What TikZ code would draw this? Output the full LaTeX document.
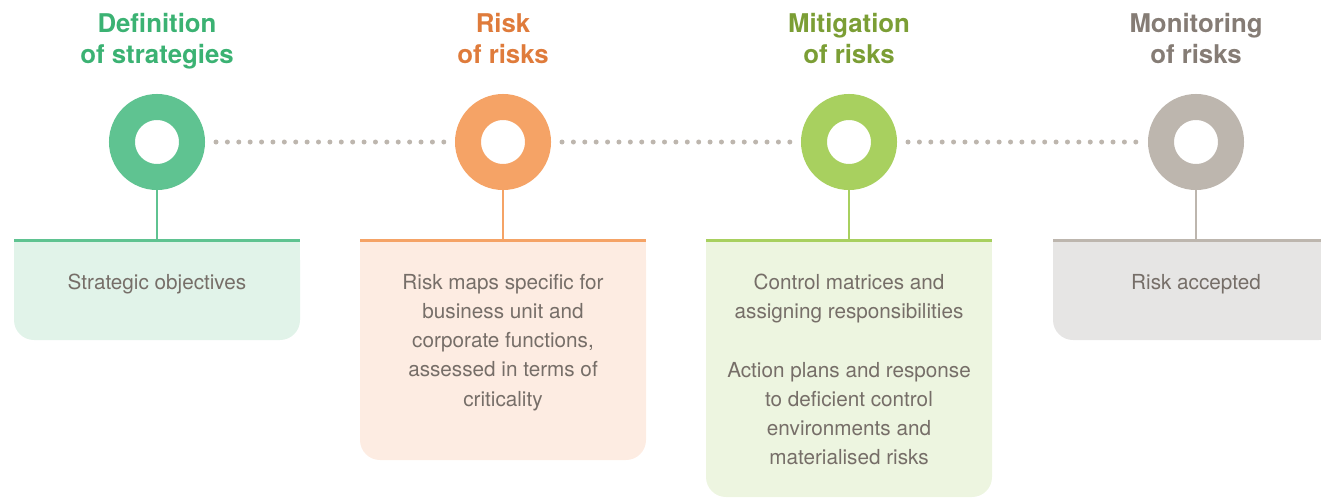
\documentclass[tikz,border=0pt]{standalone}
\usepackage{fontspec}
\setmainfont{TeX Gyre Heros}
\usepackage{tikz}

\definecolor{greenC}{HTML}{5FC391}
\definecolor{greenT}{HTML}{3BB273}
\definecolor{greenF}{HTML}{E1F3E9}
\definecolor{orangeC}{HTML}{F5A366}
\definecolor{orangeT}{HTML}{DF7B3B}
\definecolor{orangeF}{HTML}{FDECE2}
\definecolor{limeC}{HTML}{A8D05F}
\definecolor{limeT}{HTML}{7B9E35}
\definecolor{limeF}{HTML}{EDF5E0}
\definecolor{greyC}{HTML}{BDB6AE}
\definecolor{greyT}{HTML}{857C75}
\definecolor{greyF}{HTML}{E6E5E4}
\definecolor{textgrey}{HTML}{766E68}

\tikzset{
    ring/.style={circle, draw=#1, line width=26pt, minimum size=70pt, inner sep=0pt},
    title/.style={font=\bfseries\fontsize{25.8}{31.5}\selectfont, text=#1, align=center, anchor=north, inner sep=0pt},
    body/.style={font=\fontsize{20.7}{29.2}\selectfont, text=textgrey, align=center, anchor=north, inner sep=0pt},
    stem/.style={draw=#1, line width=2.5pt},
    dots/.style={draw=greyC, line width=5pt, line cap=round, dash pattern=on 0pt off 11.39pt}
}

\begin{document}
\begin{tikzpicture}[x=1pt,y=-1pt]
            \useasboundingbox (0,0) rectangle (1321,498);
            \clip (0,0) rectangle (1321,498);
            % rings, boxes and stems
            \foreach \i/\cx/\bot/\cc/\fc in {1/157/340/greenC/greenF, 2/503/460/orangeC/orangeF, 3/849/497/limeC/limeF, 4/1196/340/greyC/greyF}{
                \node[ring=\cc] (c\i) at (\cx,142) {};
                \fill[\fc, rounded corners=20pt] (\cx-143,240) rectangle (\cx+143,\bot);
                \fill[\fc] (\cx-143,240) rectangle (\cx+143,270);
                \draw[\cc, line width=3pt] (\cx-143,240) -- (\cx+143,240);
                \coordinate (top\i) at (\cx,240);
                \draw[stem=\cc] (c\i) -- (top\i);
            }
            \foreach \a/\b in {1/2, 2/3, 3/4}
                \draw[dots] ([xshift=11pt]c\a.east) -- ([xshift=-11pt]c\b.west);
            % titles
            \node[title=greenT] (t1) at (157,12.8) {Definition\\of strategies};
            \node[title=orangeT] (t2) at (503,12.8) {Risk\\of risks};
            \node[title=limeT] (t3) at (849,12.8) {Mitigation\\of risks};
            \node[title=greyT] (t4) at (1196,12.8) {Monitoring\\of risks};
            % texts in the boxes
            \node[body] (b1) at (157,274) {Strategic objectives};
            \node[body] (b2) at (503,274) {Risk maps specific for\\business unit and\\corporate functions,\\assessed in terms of\\criticality};
            \node[body] (b3) at (849,274) {Control matrices and\\assigning responsibilities\\[29.2pt]Action plans and response\\to deficient control\\environments and\\materialised risks};
            \node[body] (b4) at (1196,274) {Risk accepted};
\end{tikzpicture}
\end{document}
